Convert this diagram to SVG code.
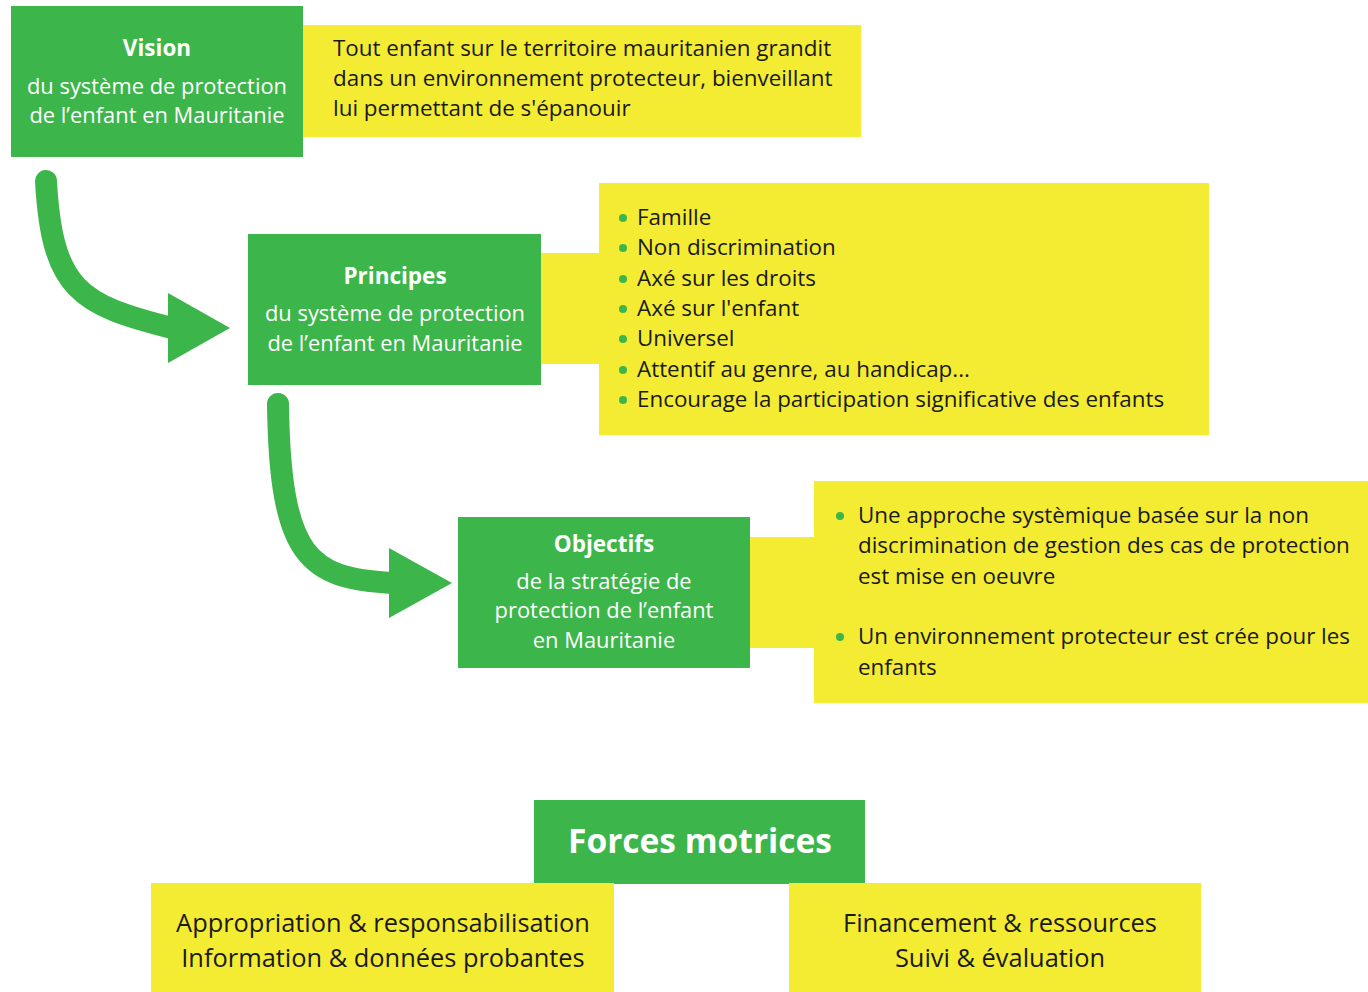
<svg xmlns="http://www.w3.org/2000/svg" width="1368" height="992" viewBox="0 0 1368 992">
<style>
.g{fill:#3cb54a}
.y{fill:#f4ec33}
.t{font-family:"Open Sans","Liberation Sans",sans-serif;font-size:22.4px;fill:#1a1a1a}
.w{font-family:"Open Sans","Liberation Sans",sans-serif;font-size:21.9px;fill:#ffffff;text-anchor:middle}
.wb{font-family:"Open Sans","Liberation Sans",sans-serif;font-size:22.5px;font-weight:bold;fill:#ffffff;text-anchor:middle}
.b{fill:#3cb54a}
.arr{fill:none;stroke:#3cb54a;stroke-width:22;stroke-linecap:round}
.big{font-family:"Open Sans","Liberation Sans",sans-serif;font-size:25.4px;fill:#1a1a1a;text-anchor:middle}
</style>
<rect width="1368" height="992" fill="#ffffff"/>
<g id="connectors">
<path class="arr" d="M46,181 C52,290 80,305 172,328"/>
<polygon class="g" points="168,293 168,363 230,328"/>
<path class="arr" d="M278,404 C280,560 310,578 392,583"/>
<polygon class="g" points="389,548 389,618 452,583"/>
</g>
<g id="vision">
<rect class="y" x="303" y="25" width="558" height="112"/>
<rect class="g" x="11" y="6" width="292" height="151"/>
<text class="wb" x="157" y="56">Vision</text>
<text class="w" x="157" y="94">du système de protection</text>
<text class="w" x="157" y="123">de l’enfant en Mauritanie</text>
<text class="t" x="333" y="56">Tout enfant sur le territoire mauritanien grandit</text>
<text class="t" x="333" y="86">dans un environnement protecteur, bienveillant</text>
<text class="t" x="333" y="116">lui permettant de s'épanouir</text>
</g>
<g id="principes">
<rect class="y" x="599" y="183" width="610" height="252"/>
<rect class="y" x="540" y="253" width="60" height="111"/>
<rect class="g" x="248" y="234" width="293" height="151"/>
<text class="wb" x="395" y="284">Principes</text>
<text class="w" x="395" y="321">du système de protection</text>
<text class="w" x="395" y="351">de l’enfant en Mauritanie</text>
<circle class="b" cx="623" cy="218" r="4"/>
<circle class="b" cx="623" cy="248" r="4"/>
<circle class="b" cx="623" cy="279" r="4"/>
<circle class="b" cx="623" cy="309" r="4"/>
<circle class="b" cx="623" cy="339" r="4"/>
<circle class="b" cx="623" cy="370" r="4"/>
<circle class="b" cx="623" cy="400" r="4"/>
<text class="t" x="637" y="225">Famille</text>
<text class="t" x="637" y="255">Non discrimination</text>
<text class="t" x="637" y="286">Axé sur les droits</text>
<text class="t" x="637" y="316">Axé sur l'enfant</text>
<text class="t" x="637" y="346">Universel</text>
<text class="t" x="637" y="377">Attentif au genre, au handicap...</text>
<text class="t" x="637" y="407">Encourage la participation significative des enfants</text>
</g>
<g id="objectifs">
<rect class="y" x="814" y="481" width="554" height="222"/>
<rect class="y" x="749" y="537" width="66" height="111"/>
<rect class="g" x="458" y="517" width="292" height="151"/>
<text class="wb" x="604" y="552">Objectifs</text>
<text class="w" x="604" y="589">de la stratégie de</text>
<text class="w" x="604" y="618">protection de l’enfant</text>
<text class="w" x="604" y="648">en Mauritanie</text>
<circle class="b" cx="840" cy="516" r="4"/>
<circle class="b" cx="840" cy="637" r="4"/>
<text class="t" x="858" y="523">Une approche systèmique basée sur la non</text>
<text class="t" x="858" y="553">discrimination de gestion des cas de protection</text>
<text class="t" x="858" y="584">est mise en oeuvre</text>
<text class="t" x="858" y="644">Un environnement protecteur est crée pour les</text>
<text class="t" x="858" y="675">enfants</text>
</g>
<g id="forces">
<rect class="g" x="534" y="800" width="331" height="84"/>
<text class="wb" x="700" y="853" style="font-size:33.5px">Forces motrices</text>
</g>
<g id="forces-gauche">
<rect class="y" x="151" y="883" width="463" height="109"/>
<text class="big" x="383" y="932">Appropriation &amp; responsabilisation</text>
<text class="big" x="383" y="967">Information &amp; données probantes</text>
</g>
<g id="forces-droite">
<rect class="y" x="789" y="883" width="412" height="109"/>
<text class="big" x="1000" y="932">Financement &amp; ressources</text>
<text class="big" x="1000" y="967">Suivi &amp; évaluation</text>
</g>
</svg>
